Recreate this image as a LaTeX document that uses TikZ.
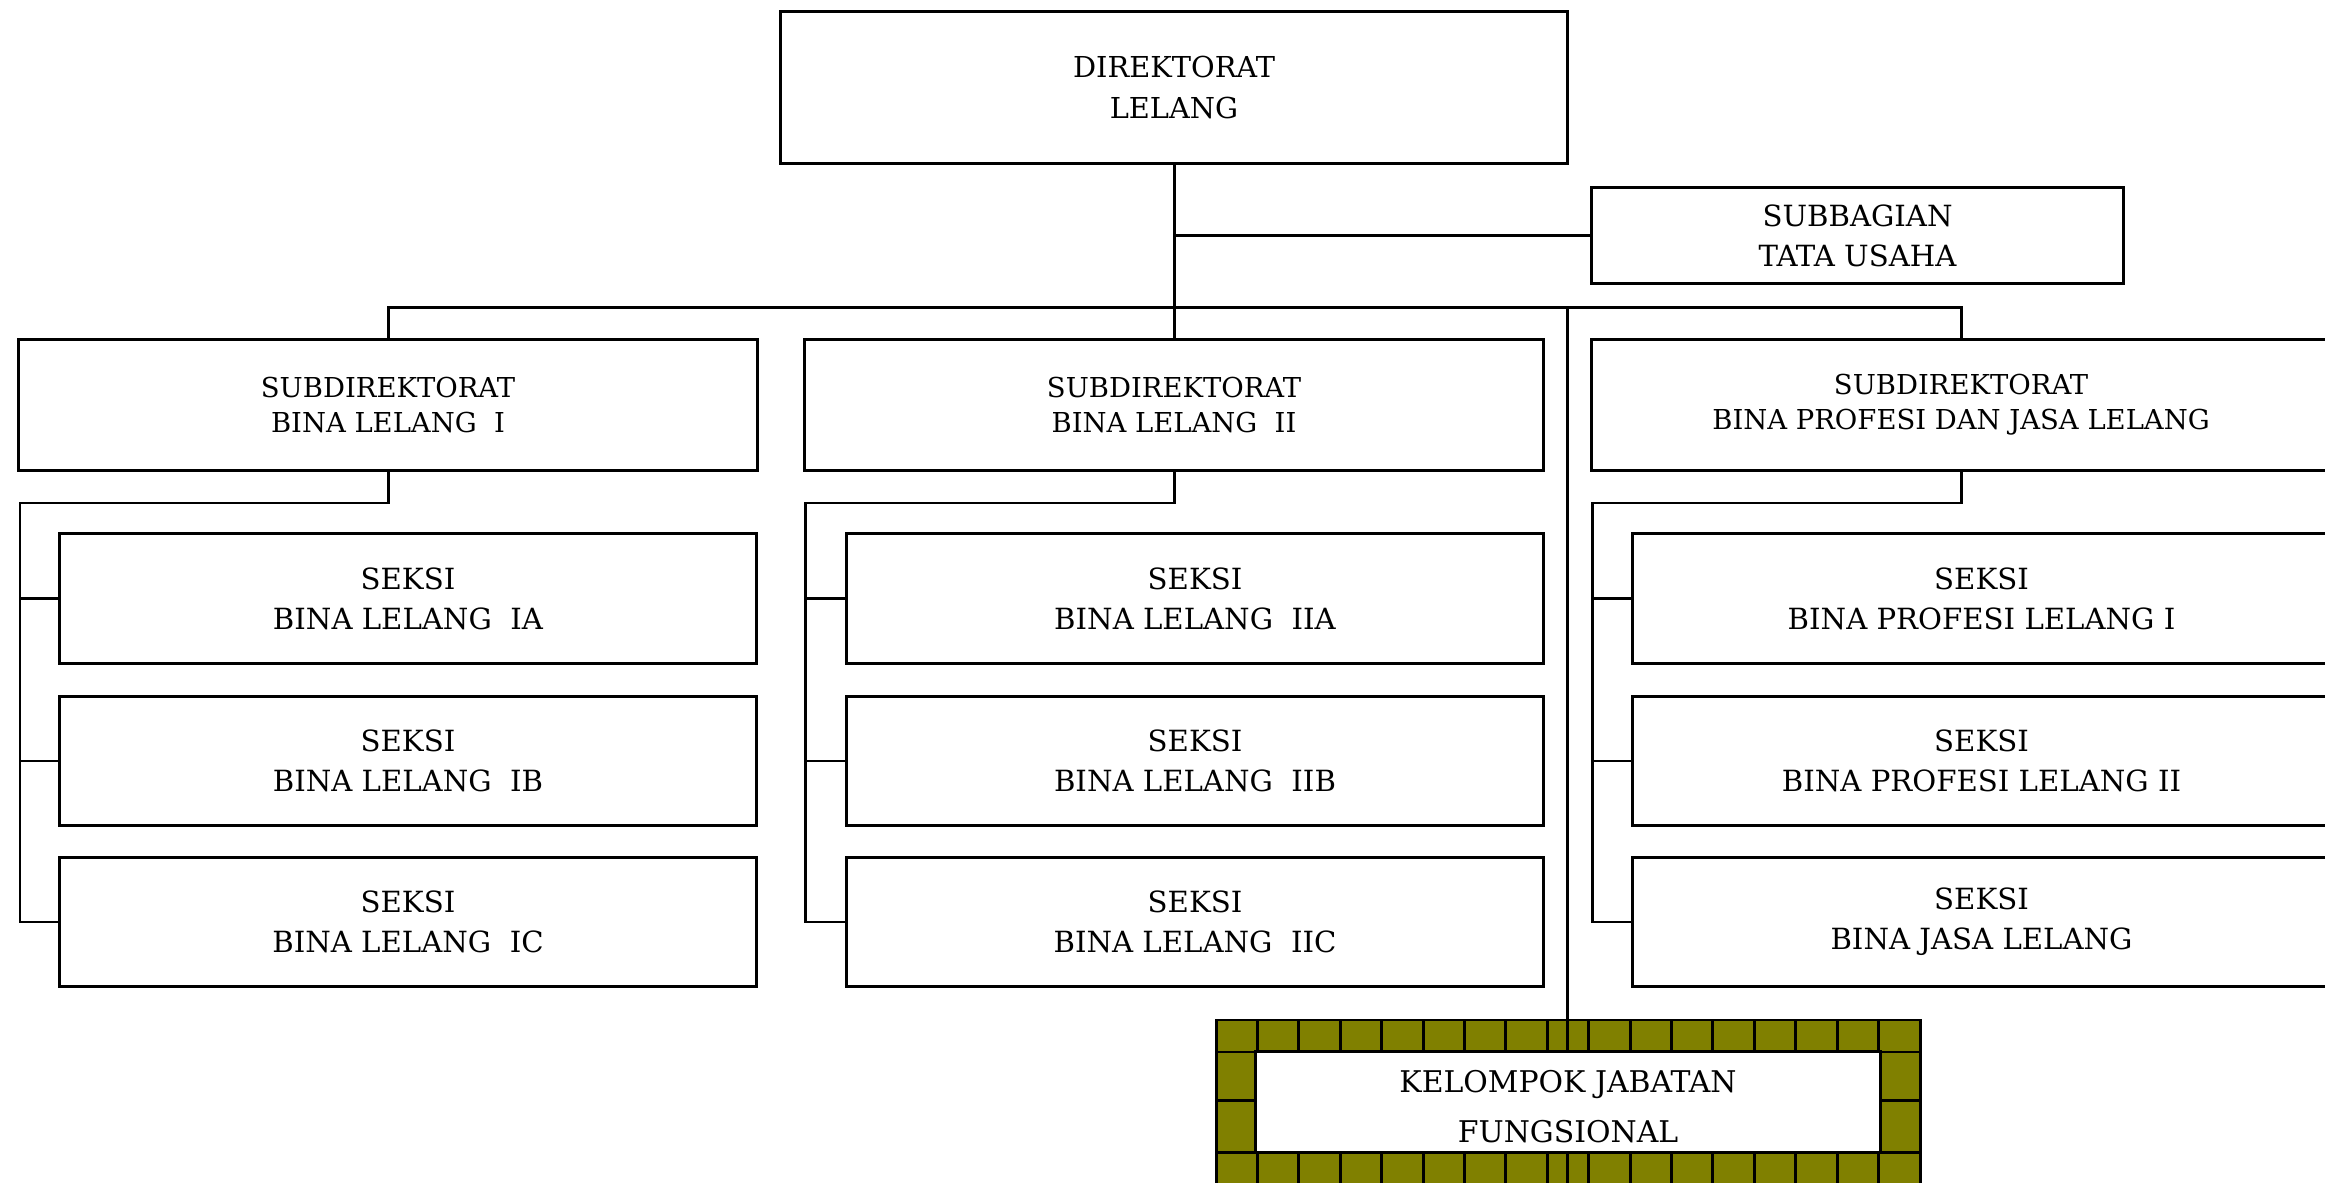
\documentclass[tikz,border=0pt]{standalone}
\usepackage{fontspec}
\setmainfont{DejaVu Serif}
\definecolor{kjfolive}{HTML}{808000}
\tikzset{
  link/.style={draw, line width=0.85pt},
  orgbox/.style={draw, line width=0.85pt, inner sep=0pt, align=center, fill=white},
  dirbox/.style={orgbox, minimum width=7.86cm, minimum height=1.51cm, font=\fontsize{8.2pt}{11.7pt}\selectfont},
  subbox/.style={orgbox, minimum width=5.31cm, minimum height=0.95cm, font=\fontsize{8.3pt}{11.4pt}\selectfont},
  sdbox/.style={orgbox, minimum width=7.38cm, minimum height=1.30cm, font=\fontsize{7.8pt}{10pt}\selectfont},
  skbox/.style={orgbox, minimum width=6.97cm, minimum height=1.29cm, font=\fontsize{8.3pt}{11.4pt}\selectfont},
  kjbox/.style={orgbox, minimum width=6.24cm, minimum height=1.00cm},
  kjtext/.style={inner sep=0pt, align=center, font=\fontsize{8.5pt}{14.2pt}\selectfont},
}
\begin{document}
\begin{tikzpicture}[x=0.01cm, y=-0.01cm]
\useasboundingbox (0,0) rectangle (2325,1183);
\clip (0,0) rectangle (2325,1183);

% nodes
\node[dirbox] (dir) at (1174,87.5) {DIREKTORAT\\LELANG};
\node[subbox] (tu) at (1857.5,235.5) {SUBBAGIAN\\TATA USAHA};

\node[sdbox] (sd1) at (388,405) {SUBDIREKTORAT\\BINA LELANG\ \ I};
\node[sdbox] (sd2) at (1174,405) {SUBDIREKTORAT\\BINA LELANG\ \ II};
\node[sdbox] (sd3) at (1961,405) {SUBDIREKTORAT\\BINA PROFESI DAN JASA LELANG};

\node[skbox] (s1a) at (408,598.5) {SEKSI\\BINA LELANG\ \ IA};
\node[skbox] (s1b) at (408,761) {SEKSI\\BINA LELANG\ \ IB};
\node[skbox] (s1c) at (408,922) {SEKSI\\BINA LELANG\ \ IC};

\node[skbox] (s2a) at (1195,598.5) {SEKSI\\BINA LELANG\ \ IIA};
\node[skbox] (s2b) at (1195,761) {SEKSI\\BINA LELANG\ \ IIB};
\node[skbox] (s2c) at (1195,922) {SEKSI\\BINA LELANG\ \ IIC};

\node[skbox] (s3a) at (1981.5,598.5) {SEKSI\\BINA PROFESI LELANG I};
\node[skbox] (s3b) at (1981.5,761) {SEKSI\\BINA PROFESI LELANG II};
\node[skbox] (s3c) at (1981.5,922) {SEKSI\\BINA JASA LELANG};

% kelompok jabatan fungsional: patterned frame
\fill[kjfolive] (1216,1020) rectangle (1920,1186);
\foreach \k in {0,...,17} \draw[link] (1216+\k*41.41,1020) -- (1216+\k*41.41,1186);
\draw[link] (1567.5,1020) -- (1567.5,1186);
\draw[link] (1216,1052) -- (1920,1052);
\draw[link] (1216,1152) -- (1920,1152);
\draw[link] (1216,1100) -- (1920,1100);
\draw[link] (1216,1020) rectangle (1920,1186);
\node[kjbox] (kjf) at (1568,1102) {};
\node[kjtext] (kjt) at (1568,1107) {KELOMPOK JABATAN\\FUNGSIONAL};

% coordinates
\coordinate (busy) at (0,307.5);
\coordinate (ktop) at (1567.5,1020);
\coordinate (g1) at (20,503);
\coordinate (g2) at (805,503);
\coordinate (g3) at (1592,503);

% connectors
\draw[link] (dir.south) -- (sd2.north);
\draw[link] (tu.west) -- (tu.west -| dir.south);
\draw[link] (sd1.north) -- (sd1.north |- busy) -| (sd3.north);
\draw[link] (ktop |- busy) -- (ktop);

\draw[link] (sd1.south) |- (g1) |- (s1c.west);
\draw[link] (g1 |- s1a.west) -- (s1a.west);
\draw[link] (g1 |- s1b.west) -- (s1b.west);

\draw[link] (sd2.south) |- (g2) |- (s2c.west);
\draw[link] (g2 |- s2a.west) -- (s2a.west);
\draw[link] (g2 |- s2b.west) -- (s2b.west);

\draw[link] (sd3.south) |- (g3) |- (s3c.west);
\draw[link] (g3 |- s3a.west) -- (s3a.west);
\draw[link] (g3 |- s3b.west) -- (s3b.west);
\end{tikzpicture}
\end{document}
